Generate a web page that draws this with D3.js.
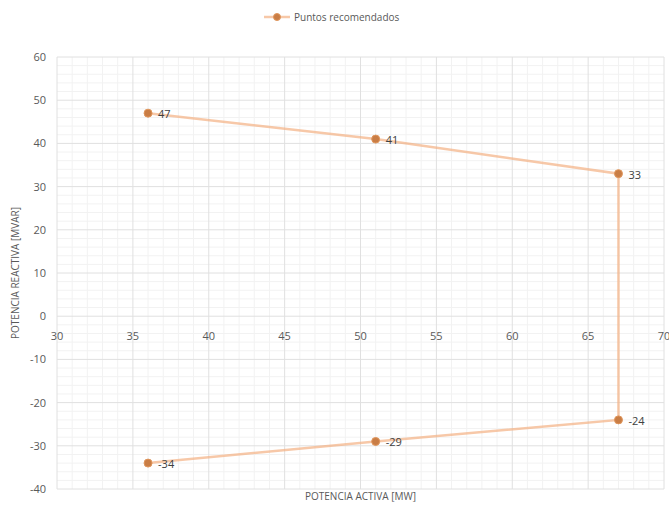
<!DOCTYPE html>
<html>
<head>
<meta charset="utf-8">
<title>Puntos recomendados</title>
<style>
    body { margin: 0; background: white; }
    text { font-family: "Open Sans", "Liberation Sans", sans-serif; fill: #595959; }
    .minor { stroke: #f2f2f2; stroke-width: 1; }
    .major { stroke: #e0e0e0; stroke-width: 1; }
</style>
</head>
<body>
<div id="chart"></div>
<script src="https://cdn.jsdelivr.net/npm/d3@7"></script>
<script>
    let potenciaActiva = [36, 51, 67, 67, 51, 36]
    let potenciaReactiva = [47, 41, 33, -24, -29, -34]
    let xTicks = [30, 35, 40, 45, 50, 55, 60, 65, 70]
    let yTicks = [60, 50, 40, 30, 20, 10, 0, -10, -20, -30, -40]
    let serieNombre = "Puntos recomendados"

    let width = 669, height = 510
    let mLeft = 57, mRight = 664, mTop = 57, mBottom = 489

    let svg = d3.select("#chart").append("svg")
        .attr("width", width)
        .attr("height", height)

    let x = d3.scaleLinear().domain([30, 70]).range([mLeft, mRight])
    let y = d3.scaleLinear().domain([-40, 60]).range([mBottom, mTop])

    // rejilla
    let grid = svg.append("g")
    grid.selectAll(".vx").data(d3.range(30, 71, 1)).enter().append("line")
        .attr("class", function(d){ return d % 5 === 0 ? "major" : "minor" })
        .attr("x1", d => x(d)).attr("x2", d => x(d))
        .attr("y1", mTop).attr("y2", mBottom)
    grid.selectAll(".hy").data(d3.range(-40, 61, 2)).enter().append("line")
        .attr("class", function(d){ return d % 10 === 0 ? "major" : "minor" })
        .attr("x1", mLeft).attr("x2", mRight)
        .attr("y1", d => y(d)).attr("y2", d => y(d))
    grid.selectAll(".major").raise()

    // etiquetas de ejes
    svg.append("g").selectAll("text").data(xTicks).enter().append("text")
        .attr("x", d => x(d))
        .attr("y", y(0) + 24)
        .attr("text-anchor", "middle")
        .attr("font-size", 11)
        .text(d => d)

    svg.append("g").selectAll("text").data(yTicks).enter().append("text")
        .attr("x", mLeft - 11)
        .attr("y", d => y(d) + 4)
        .attr("text-anchor", "end")
        .attr("font-size", 11)
        .text(d => d)

    svg.append("text")
        .attr("x", (mLeft + mRight) / 2)
        .attr("y", 500)
        .attr("text-anchor", "middle")
        .attr("font-size", 10)
        .text("POTENCIA ACTIVA [MW]")

    svg.append("text")
        .attr("transform", "translate(19," + ((mTop + mBottom) / 2) + ") rotate(-90)")
        .attr("text-anchor", "middle")
        .attr("font-size", 10)
        .text("POTENCIA REACTIVA [MVAR]")

    let puntos = potenciaActiva.map(function(d, i){ return {x: d, y: potenciaReactiva[i]} })

    let line = d3.line().x(d => x(d.x)).y(d => y(d.y))
    svg.append("path")
        .datum(puntos)
        .attr("d", line)
        .attr("fill", "none")
        .attr("stroke", "#f4b183")
        .attr("stroke-opacity", 0.7)
        .attr("stroke-width", 2.5)

    svg.append("g").selectAll("circle").data(puntos).enter().append("circle")
        .attr("cx", d => x(d.x))
        .attr("cy", d => y(d.y))
        .attr("r", 4)
        .attr("fill", "#c97d45")
        .attr("stroke", "#e0965c")
        .attr("stroke-width", 1)

    svg.append("g").selectAll("text").data(puntos).enter().append("text")
        .attr("x", d => x(d.x) + 10)
        .attr("y", d => y(d.y) + 5)
        .attr("font-size", 11)
        .style("fill", "#404040")
        .text(d => d.y)

    // leyenda
    let legend = svg.append("g").attr("transform", "translate(264,17)")
    legend.append("line")
        .attr("x1", 0).attr("x2", 26)
        .attr("stroke", "#f4b183").attr("stroke-opacity", 0.7).attr("stroke-width", 2.5)
    legend.append("circle")
        .attr("cx", 13).attr("r", 3.5)
        .attr("fill", "#c97d45").attr("stroke", "#e0965c")
    legend.append("text")
        .attr("x", 30).attr("y", 4)
        .attr("font-size", 10)
        .text(serieNombre)
</script>
</body>
</html>
